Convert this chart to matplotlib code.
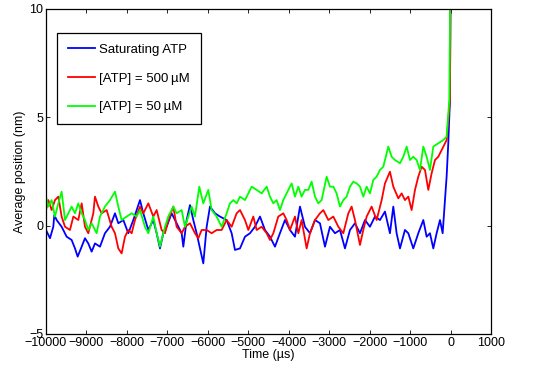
import matplotlib
matplotlib.use("Agg")
import matplotlib.pyplot as plt

plt.rcParams['font.family'] = ['Liberation Sans', 'DejaVu Sans']

# values (time in us, position in nm)
t_sat = [-10000, -9901, -9819, -9794, -9736, -9613, -9489, -9366, -9283, -9217,
         -9118, -9036, -8954, -8871, -8789, -8665, -8542, -8418, -8294, -8212,
         -8088, -7965, -7841, -7676, -7594, -7470, -7347, -7264, -7182, -7100,
         -7017, -6894, -6770, -6646, -6605, -6523, -6440, -6358, -6276, -6193,
         -6111, -6028, -5946, -5822, -5699, -5534, -5410, -5328, -5204, -5081,
         -4957, -4834, -4710, -4586, -4463, -4339, -4216, -4092, -3968, -3845,
         -3721, -3598, -3474, -3350, -3227, -3103, -2980, -2856, -2732, -2609,
         -2485, -2362, -2238, -2114, -1991, -1867, -1744, -1620, -1497, -1414,
         -1332, -1249, -1126, -1043, -920, -796, -672, -590, -508, -425,
         -343, -260, -194, -137, -96, -55, -14, 10]
y_sat = [-0.2, -0.58, -0.05, 0.49, 0.26, -0.05, -0.51, -0.66, -1.05, -1.43,
         -0.97, -0.58, -0.82, -1.2, -0.82, -0.97, -0.35, -0.05, 0.57, 0.11,
         0.26, -0.35, 0.26, 1.18, 0.57, -0.2, 0.26, -0.35, -1.05, -0.35,
         -0.05, 0.57, 0.11, -0.35, -0.97, 0.26, 0.95, 0.26, -0.35, -1.05,
         -1.74, -0.05, 0.88, 0.57, 0.42, 0.26, -0.35, -1.12, -1.05, -0.51,
         -0.35, -0.05, 0.42, -0.2, -0.51, -0.97, -0.35, 0.26, -0.2, -0.51,
         0.88, -0.05, -0.35, 0.26, 0.11, -0.97, -0.05, -0.35, -0.2, -1.05,
         -0.2, 0.11, -0.35, 0.26, -0.05, 0.42, 0.26, 0.65, -0.35, 0.88,
         -0.35, -1.05, -0.2, -0.35, -1.05, -0.35, 0.26, -0.51, -0.35, -1.05,
         -0.35, 0.26, -0.35, 1.18, 2.26, 3.8, 5.8, 14]

t_500 = [-10000, -9942, -9860, -9778, -9695, -9613, -9530, -9407, -9324, -9201,
         -9118, -9036, -8954, -8830, -8789, -8706, -8624, -8500, -8377, -8294,
         -8212, -8130, -8047, -7965, -7882, -7800, -7676, -7594, -7470, -7347,
         -7264, -7141, -7058, -6976, -6852, -6770, -6646, -6564, -6440, -6317,
         -6234, -6152, -6028, -5905, -5781, -5658, -5534, -5410, -5287, -5204,
         -5081, -4998, -4875, -4792, -4669, -4545, -4463, -4380, -4257, -4133,
         -4051, -3968, -3845, -3762, -3680, -3556, -3474, -3350, -3227, -3144,
         -3021, -2897, -2773, -2650, -2526, -2444, -2362, -2238, -2156, -2073,
         -1950, -1826, -1702, -1620, -1497, -1414, -1290, -1208, -1126, -1043,
         -961, -878, -796, -714, -631, -549, -466, -384, -302, -219,
         -96, -14, 10]
y_500 = [0.72, 1.18, 0.72, 1.18, 1.34, 0.42, -0.05, -0.2, 0.42, 0.26,
         1.03, -0.05, -0.35, 0.57, 1.34, 0.88, 0.57, 0.72, -0.05, -0.35,
         -1.05, -1.28, -0.51, -0.2, -0.35, 0.26, 0.88, 0.57, 1.03, 0.42,
         0.72, -0.2, -0.35, 0.26, 0.88, -0.05, -0.35, -0.05, 0.11, -0.35,
         -0.58, -0.2, -0.2, -0.35, -0.2, -0.2, 0.26, -0.05, 0.57, 0.72,
         0.26, -0.2, 0.42, -0.2, -0.05, -0.35, -0.66, -0.35, 0.42, 0.57,
         0.26, -0.2, 0.42, -0.35, 0.26, -1.05, -0.35, 0.26, 0.57, 0.72,
         0.26, 0.42, -0.05, -0.35, 0.57, 0.88, 0.26, -0.89, -0.2, 0.42,
         0.88, 0.26, 1.18, 1.95, 2.49, 1.8, 1.26, 1.49, 1.18, 1.34,
         0.72, 1.65, 2.26, 2.72, 2.57, 1.65, 2.42, 3.03, 3.18, 3.49,
         3.95, 5.8, 14]

t_50 = [-10000, -9942, -9860, -9778, -9695, -9613, -9530, -9448, -9366, -9283,
        -9201, -9118, -9036, -8954, -8871, -8748, -8665, -8542, -8418, -8294,
        -8212, -8130, -8006, -7882, -7759, -7676, -7553, -7470, -7347, -7264,
        -7182, -7058, -6976, -6852, -6770, -6646, -6564, -6482, -6399, -6317,
        -6210, -6111, -5987, -5905, -5781, -5658, -5534, -5452, -5369, -5287,
        -5204, -5081, -4998, -4916, -4792, -4669, -4545, -4463, -4380, -4298,
        -4216, -4133, -4010, -3927, -3845, -3762, -3680, -3598, -3515, -3433,
        -3350, -3268, -3186, -3062, -2980, -2897, -2815, -2732, -2650, -2568,
        -2485, -2403, -2320, -2238, -2156, -2073, -1991, -1908, -1826, -1744,
        -1661, -1538, -1455, -1373, -1249, -1167, -1084, -1002, -920, -837,
        -755, -672, -590, -508, -425, -302, -178, -96, -30, 10]
y_50 = [1.34, 0.88, 1.18, 0.42, 1.03, 1.57, 0.26, 0.57, 0.88, 0.57,
        1.03, 0.57, 0.26, -0.2, 0.11, -0.35, 0.42, 0.88, 1.18, 1.57,
        0.88, 0.26, 0.42, 0.57, 0.42, 0.72, -0.05, -0.35, 0.42, -0.35,
        -0.97, -0.05, 0.42, 0.88, 0.57, 0.72, -0.05, 0.42, 0.88, 0.42,
        1.8, 1.03, 1.65, 0.72, 0.42, -0.05, 0.57, 1.03, 1.18, 1.03,
        1.34, 1.18, 1.49, 1.8, 1.65, 1.49, 1.8, 1.34, 1.03, 1.18,
        0.72, 1.18, 1.65, 1.95, 1.34, 1.8, 1.34, 1.65, 1.65, 2.03,
        1.34, 1.03, 1.18, 2.26, 1.8, 1.8, 1.49, 0.88, 1.18, 1.34,
        1.8, 2.03, 1.95, 1.8, 1.34, 1.8, 1.49, 2.11, 2.26, 2.57,
        2.72, 3.65, 3.18, 3.03, 2.88, 3.18, 3.65, 3.03, 3.18, 3.03,
        2.57, 3.65, 3.18, 2.57, 3.65, 3.8, 3.95, 4.11, 5.8, 14]

labels = ['Saturating ATP', '[ATP] = 500\u2009\u00b5M', '[ATP] = 50\u2009\u00b5M']
xticks = list(range(-10000, 1001, 1000))
yticks = [-5, 0, 5, 10]

fig = plt.figure(figsize=(5.54, 3.68), dpi=100)
ax = fig.add_axes([0.083, 0.0924, 0.8032, 0.8832])

ax.plot(t_sat, y_sat, color='#0000ff', lw=1.3, label=labels[0])
ax.plot(t_500, y_500, color='#ff0000', lw=1.3, label=labels[1])
ax.plot(t_50, y_50, color='#00ff00', lw=1.3, label=labels[2])

ax.set_xlim(-10000, 1000)
ax.set_ylim(-5, 10)
ax.set_xticks(xticks)
ax.set_yticks(yticks)
ax.tick_params(direction='in', top=True, right=True, length=3, width=0.6,
               labelsize=9, pad=2)
for s in ax.spines.values():
    s.set_linewidth(0.9)

ax.set_xlabel('Time (\u00b5s)', fontsize=9, labelpad=0)
ax.set_ylabel('Average position (nm)', fontsize=9, labelpad=2)

leg = ax.legend(loc='upper left', bbox_to_anchor=(0.025, 0.926), borderaxespad=0,
                fontsize=9.5, fancybox=False, framealpha=1, edgecolor='black',
                handlelength=2.1, handletextpad=0.3, labelspacing=1.25,
                borderpad=0.8)
leg.get_frame().set_linewidth(0.9)

fig.savefig('out.png', dpi=100)
